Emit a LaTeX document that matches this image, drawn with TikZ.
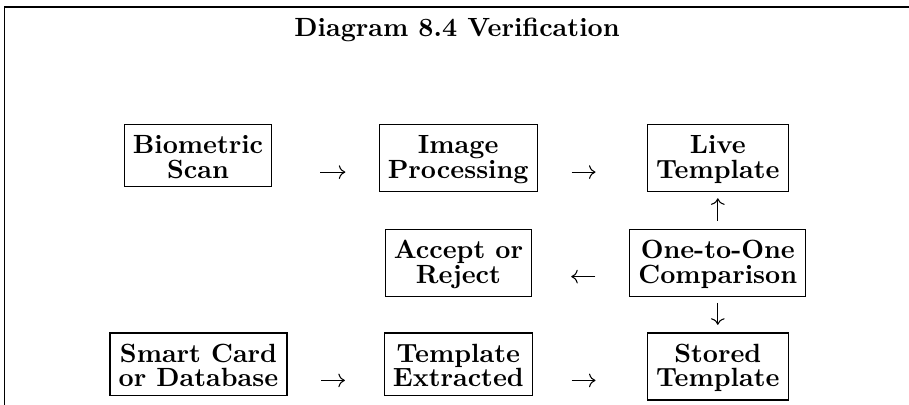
\documentclass[tikz,border=0pt]{standalone}
\usetikzlibrary{arrows.meta}
\tikzset{
  stepbox/.style={draw, line width=0.4pt, anchor=base, align=center,
    inner xsep=3.3pt, inner ysep=3pt,
    font=\fontsize{10pt}{9.4pt}\selectfont\bfseries},
  conn/.style={line width=0.4pt, -{Computer Modern Rightarrow}},
  frameline/.style={line width=0.4pt},
}
\newcommand{\topstrut}{\rule{0pt}{8.1pt}}
\begin{document}
\begin{tikzpicture}[x=0.3795pt, y=-0.3795pt]
\useasboundingbox (0,0) rectangle (909,405);
% frame (cropped box)
\draw[frameline] (4.5,410) -- (4.5,7) -- (915,7);
% title
\node[font=\bfseries, anchor=base, inner sep=0pt] (title) at (457,36.7) {Diagram 8.4 Verification};
% row 1
\node[stepbox] (bio)  at (198,178.7)   {\topstrut Biometric\\Scan};
\node[stepbox] (img)  at (458.2,178.7) {\topstrut Image\\Processing};
\node[stepbox] (live) at (717.8,178.7) {\topstrut Live\\Template};
% row 2
\node[stepbox] (acc)  at (458.4,283.2) {\topstrut Accept or\\Reject};
\node[stepbox] (cmp)  at (717.8,283.2) {\topstrut One-to-One\\Comparison};
% row 3
\node[stepbox] (card) at (198.5,387)   {\topstrut Smart Card\\or Database};
\node[stepbox] (ext)  at (458.3,387)   {\topstrut Template\\Extracted};
\node[stepbox] (sto)  at (717.8,387)   {\topstrut Stored\\Template};
% connectors
\draw[conn, shorten <=18.2pt, shorten >=12.6pt] ([yshift=2.5pt]bio.base east) -- ([yshift=2.5pt]img.base west);
\draw[conn, shorten <=12.8pt, shorten >=19.5pt] ([yshift=2.5pt]img.base east) -- ([yshift=2.5pt]live.base west);
\draw[conn, shorten <=12.8pt, shorten >=14.8pt] ([yshift=2.5pt]cmp.base west) -- ([yshift=2.5pt]acc.base east);
\draw[conn, shorten <=12.7pt, shorten >=14.7pt] ([yshift=2.5pt]card.base east) -- ([yshift=2.5pt]ext.base west);
\draw[conn, shorten <=14.7pt, shorten >=19.5pt] ([yshift=2.5pt]ext.base east) -- ([yshift=2.5pt]sto.base west);
\draw[conn, shorten <=3pt, shorten >=2.3pt] (cmp.north) -- (live.south);
\draw[conn, shorten <=2.3pt, shorten >=2.9pt] (cmp.south) -- (sto.north);
\end{tikzpicture}
\end{document}
